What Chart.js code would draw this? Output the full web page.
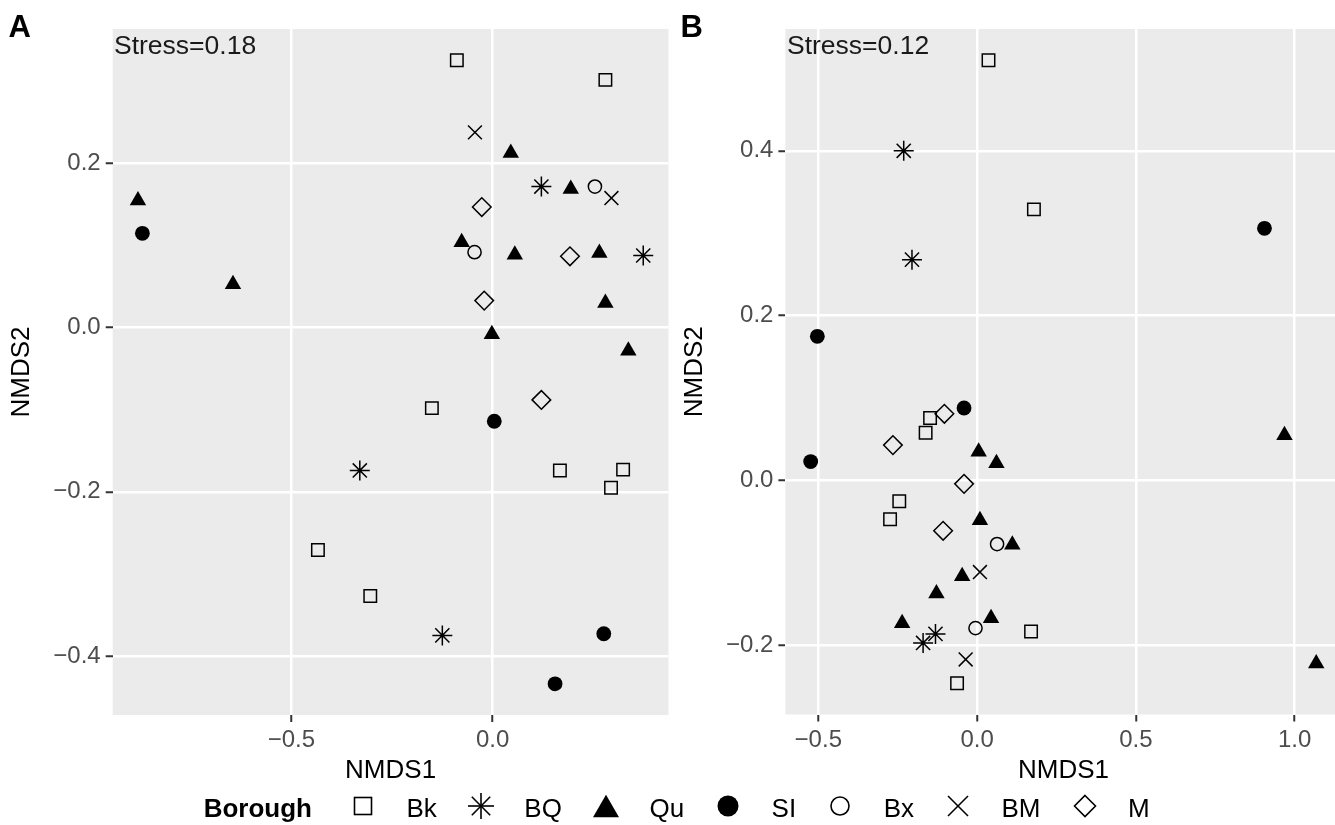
<!DOCTYPE html>
<html><head><meta charset="utf-8">
<script src="https://cdn.jsdelivr.net/npm/chart.js@4.4.1/dist/chart.umd.min.js"></script>
<style>
html,body{margin:0;padding:0;width:1335px;height:825px;overflow:hidden;background:#fff;font-family:'Liberation Sans',Arial,Helvetica,sans-serif;}
canvas{position:absolute;top:0;}
.lbl{position:absolute;white-space:nowrap;color:#000;}
#legend{position:absolute;left:203.7px;top:794.7px;height:26px;display:flex;align-items:center;font-size:26px;line-height:26px;}
#legend svg{position:relative;top:-1.7px;flex:none;}
</style></head><body>
<canvas id="cA" width="680" height="825" style="left:0px;width:680px;height:825px"></canvas>
<canvas id="cB" width="680" height="825" style="left:673px;width:680px;height:825px"></canvas>
<div class="lbl" id="tagA" style="left:8.5px;top:10.5px;font-size:31px;line-height:31px;font-weight:bold">A</div>
<div class="lbl" id="tagB" style="left:680.5px;top:10.5px;font-size:31px;line-height:31px;font-weight:bold">B</div>
<div class="lbl" id="stressA" style="left:114px;top:31.9px;font-size:26.5px;line-height:26.5px;color:#1a1a1a"></div>
<div class="lbl" id="stressB" style="left:787px;top:31.9px;font-size:26.5px;line-height:26.5px;color:#1a1a1a"></div>
<div id="legend"></div>
<script>
// ---------- data ----------
const groups = ['Bk','BQ','Qu','SI','Bx','BM','M'];
const legendTitle = 'Borough';
const stressA = 'Stress=0.18';
const stressB = 'Stress=0.12';

// Panel A  [NMDS1, NMDS2]
const A_Bk = [[-0.089,0.326],[0.280,0.302],[-0.151,-0.098],[0.167,-0.174],[0.324,-0.173],[0.294,-0.195],[-0.434,-0.271],[-0.304,-0.327]];
const A_BQ = [[0.121,0.172],[0.374,0.088],[-0.330,-0.174],[-0.125,-0.375]];
const A_Qu = [[0.045,0.213],[0.194,0.169],[-0.077,0.104],[0.055,0.089],[0.265,0.091],[0.280,0.030],[-0.002,-0.008],[0.337,-0.028],[-0.881,0.155],[-0.645,0.053]];
const A_SI = [[-0.870,0.115],[0.004,-0.114],[0.276,-0.373],[0.155,-0.434]];
const A_Bx = [[0.254,0.172],[-0.045,0.092]];
const A_BM = [[-0.044,0.238],[0.295,0.158]];
const A_M  = [[-0.027,0.147],[0.192,0.087],[-0.021,0.033],[0.121,-0.088]];

// Panel B
const B_Bk = [[0.036,0.510],[0.179,0.329],[-0.148,0.076],[-0.162,0.058],[-0.245,-0.025],[-0.274,-0.047],[0.170,-0.183],[-0.063,-0.246]];
const B_BQ = [[-0.231,0.400],[-0.205,0.268],[-0.131,-0.186],[-0.170,-0.197]];
const B_Qu = [[0.005,0.035],[0.061,0.021],[0.009,-0.048],[0.111,-0.078],[-0.047,-0.116],[-0.128,-0.137],[-0.236,-0.173],[0.044,-0.167],[0.968,0.055],[1.068,-0.222]];
const B_SI = [[0.905,0.306],[-0.503,0.175],[-0.041,0.088],[-0.524,0.023]];
const B_Bx = [[0.063,-0.077],[-0.005,-0.179]];
const B_BM = [[0.009,-0.111],[-0.036,-0.217]];
const B_M  = [[-0.103,0.081],[-0.265,0.043],[-0.041,-0.004],[-0.107,-0.061]];

// tick values
const A_xTicks = [-0.5, 0.0];
const A_yTicks = [-0.4, -0.2, 0.0, 0.2];
const B_xTicks = [-0.5, 0.0, 0.5, 1.0];
const B_yTicks = [-0.2, 0.0, 0.2, 0.4];

// ---------- styles ----------
const FONT = "'Liberation Sans', Arial, Helvetica, sans-serif";
Chart.defaults.font.family = FONT;
const shapeStyle = {
  Bk:{pointStyle:'rect',     radius:8.8, fill:false},
  BQ:{pointStyle:'star',     radius:10,  fill:false},
  Qu:{pointStyle:'triangle', radius:9.5, fill:true},
  SI:{pointStyle:'circle',   radius:7.4, fill:true},
  Bx:{pointStyle:'circle',   radius:6.6, fill:false},
  BM:{pointStyle:'crossRot', radius:9.8, fill:false},
  M: {pointStyle:'rectRot',  radius:9.3, fill:false}
};

const fmt = v => (v < 0 ? '\u2212' : '') + Math.abs(v).toFixed(1);
function expand(vals){ const mn=Math.min(...vals), mx=Math.max(...vals), d=(mx-mn)*0.05; return [mn-d, mx+d]; }

const bgPlugin = {
  id:'panelBg',
  beforeDraw(chart){
    const {ctx, chartArea:a} = chart;
    ctx.save(); ctx.fillStyle='#EBEBEB';
    ctx.fillRect(a.left, a.top, a.right-a.left, a.bottom-a.top);
    ctx.restore();
  }
};

function makeChart(id, sets, xTicks, yTicks, lay){
  const all = sets.flat();
  const xr = expand(all.map(p=>p[0]));
  const yr = expand(all.map(p=>p[1]));
  const datasets = groups.map((g,i)=>{
    const s = shapeStyle[g];
    return {
      label:g,
      data: sets[i].map(p=>({x:p[0], y:p[1]})),
      pointStyle:s.pointStyle,
      pointRadius:s.radius,
      pointHoverRadius:s.radius,
      pointBackgroundColor: s.fill ? '#000' : 'rgba(0,0,0,0)',
      pointBorderColor:'#000',
      pointBorderWidth: s.fill ? 0 : 1.5,
      clip:false
    };
  });
  const tickFont = {family:FONT, size:24, lineHeight:1};
  const titleFont = {family:FONT, size:26, lineHeight:1};
  return new Chart(document.getElementById(id), {
    type:'scatter',
    data:{datasets},
    plugins:[bgPlugin],
    options:{
      responsive:false, animation:false, devicePixelRatio:1,
      layout:{padding:{left:0, right:lay.padRight, top:29, bottom:41.2}},
      plugins:{legend:{display:false}, tooltip:{enabled:false}},
      scales:{
        x:{
          type:'linear', position:'bottom', min:xr[0], max:xr[1],
          afterBuildTicks:s=>{ s.ticks = xTicks.map(v=>({value:v})); },
          afterFit:s=>{ s.height = lay.xH; },
          grid:{color:'#FFFFFF', lineWidth:2.5, drawTicks:true, tickLength:7, tickColor:'#333333', tickWidth:2},
          border:{display:false},
          ticks:{color:'#4D4D4D', font:tickFont, padding:6.5, maxRotation:0, callback:v=>fmt(v)},
          title:{display:true, text:'NMDS1', color:'#000', font:titleFont, padding:{top:0,bottom:0}}
        },
        y:{
          type:'linear', position:'left', min:yr[0], max:yr[1],
          afterBuildTicks:s=>{ s.ticks = yTicks.map(v=>({value:v})); },
          afterFit:s=>{ s.width = lay.yW; },
          grid:{color:'#FFFFFF', lineWidth:2.5, drawTicks:true, tickLength:7, tickColor:'#333333', tickWidth:2},
          border:{display:false},
          ticks:{color:'#4D4D4D', font:tickFont, padding:5, callback:v=>fmt(v)},
          title:{display:true, text:'NMDS2', color:'#000', font:titleFont, padding:{top:9,bottom:0}}
        }
      }
    }
  });
}

makeChart('cA', [A_Bk,A_BQ,A_Qu,A_SI,A_Bx,A_BM,A_M], A_xTicks, A_yTicks, {padRight:9.5, xH:68.8, yW:112.7});
makeChart('cB', [B_Bk,B_BQ,B_Qu,B_SI,B_Bx,B_BM,B_M], B_xTicks, B_yTicks, {padRight:10.8, xH:69.3, yW:112.4});

document.getElementById('stressA').textContent = stressA;
document.getElementById('stressB').textContent = stressB;

// ---------- legend ----------
const legendSvg = {
  Bk:'<rect x="6.5" y="6.5" width="17" height="17" fill="none" stroke="#000" stroke-width="1.6"/>',
  BQ:'<g stroke="#000" stroke-width="1.6"><line x1="15" y1="2" x2="15" y2="28"/><line x1="2" y1="15" x2="28" y2="15"/><line x1="5.8" y1="5.8" x2="24.2" y2="24.2"/><line x1="5.8" y1="24.2" x2="24.2" y2="5.8"/></g>',
  Qu:'<polygon points="15,3.75 2,26.25 28,26.25" fill="#000"/>',
  SI:'<circle cx="15" cy="15" r="10.5" fill="#000"/>',
  Bx:'<circle cx="15" cy="15" r="9" fill="none" stroke="#000" stroke-width="1.6"/>',
  BM:'<g stroke="#000" stroke-width="1.6"><line x1="5" y1="5" x2="25" y2="25"/><line x1="5" y1="25" x2="25" y2="5"/></g>',
  M:'<polygon points="15,4.5 25.5,15 15,25.5 4.5,15" fill="none" stroke="#000" stroke-width="1.6"/>'
};
const leg = document.getElementById('legend');
let html = '<span style="font-weight:bold;margin-right:36px">'+legendTitle+'</span>';
groups.forEach((g,i)=>{
  html += '<svg width="30" height="30" viewBox="0 0 30 30" style="margin-right:28.5px">'+legendSvg[g]+'</svg>';
  html += '<span style="margin-right:'+(i<groups.length-1?29:0)+'px">'+g+'</span>';
});
leg.innerHTML = html;
</script>
</body></html>
